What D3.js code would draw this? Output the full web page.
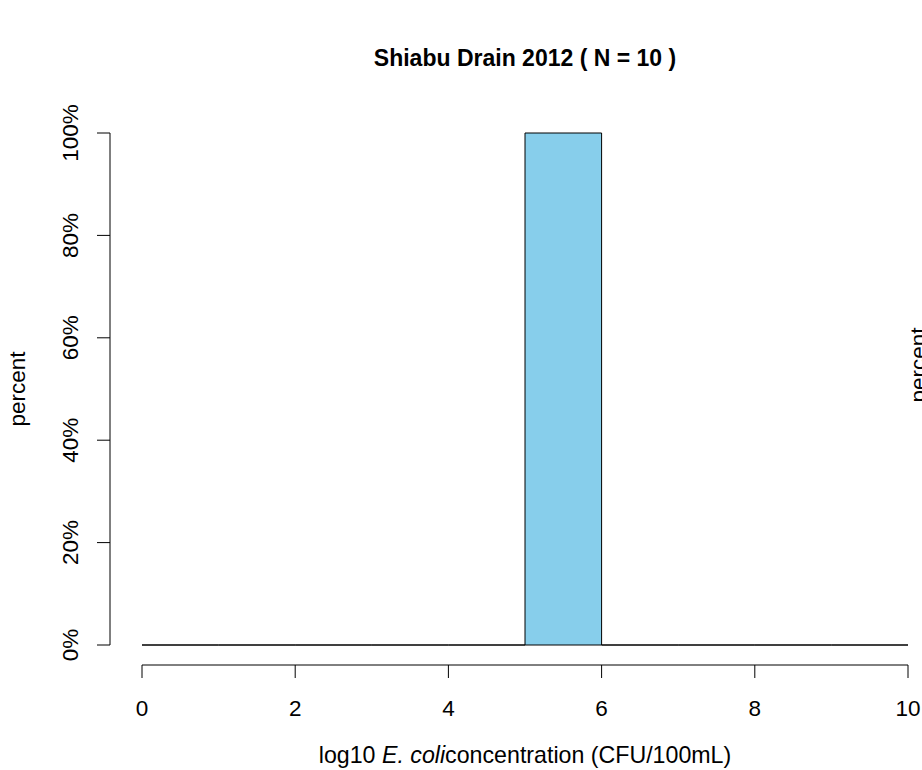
<!DOCTYPE html>
<html>
<head>
<meta charset="utf-8">
<script src="https://cdn.jsdelivr.net/npm/d3@7"></script>
<style>
body { margin: 0; background: #fff; }
text { font-family: "Liberation Sans", Arial, Helvetica, sans-serif; fill: #000; }
</style>
</head>
<body>
<div id="plot"></div>
<script>
const binStarts = [0, 1, 2, 3, 4, 5, 6, 7, 8, 9];
const binWidth = 1;
const percents = [0, 0, 0, 0, 0, 100, 0, 0, 0, 0];
const xTicks = [0, 2, 4, 6, 8, 10];
const yTicks = [0, 20, 40, 60, 80, 100];
const title = "Shiabu Drain 2012 ( N = 10 )";

const W = 922, H = 770;
const fs = 22.5;

const svg = d3.select("#plot")
	.append("svg")
	.attr("width", W)
	.attr("height", H);

const x = d3.scaleLinear().domain([0, 10]).range([142, 908]);
const y = d3.scaleLinear().domain([0, 100]).range([645, 133]);

// bars (zero-height ones show as the baseline)
svg.append("g")
	.selectAll("path")
	.data(binStarts.map((b, i) => ({x0: b, x1: b + binWidth, v: percents[i]})))
	.enter()
	.append("path")
		.attr("d", d => `M${x(d.x0)},${y(0)}V${y(d.v)}H${x(d.x1)}V${y(0)}Z`)
		.attr("fill", "#87CEEB")
		.attr("stroke", "#000")
		.attr("stroke-width", 1);

// y axis
const yAx = svg.append("g");
yAx.append("line")
	.attr("x1", 110).attr("x2", 110)
	.attr("y1", y(0)).attr("y2", y(100))
	.attr("stroke", "#000");
yAx.selectAll(".tk")
	.data(yTicks)
	.enter()
	.append("line")
		.attr("x1", 97).attr("x2", 110)
		.attr("y1", d => y(d)).attr("y2", d => y(d))
		.attr("stroke", "#000");
yAx.selectAll("text")
	.data(yTicks)
	.enter()
	.append("text")
		.attr("transform", d => `translate(78,${y(d)}) rotate(-90)`)
		.attr("text-anchor", "middle")
		.attr("font-size", fs)
		.text(d => d + "%");

// x axis
const xAx = svg.append("g");
xAx.append("line")
	.attr("x1", x(0)).attr("x2", x(10))
	.attr("y1", 665).attr("y2", 665)
	.attr("stroke", "#000");
xAx.selectAll(".tk")
	.data(xTicks)
	.enter()
	.append("line")
		.attr("x1", d => x(d)).attr("x2", d => x(d))
		.attr("y1", 665).attr("y2", 678)
		.attr("stroke", "#000");
xAx.selectAll("text")
	.data(xTicks)
	.enter()
	.append("text")
		.attr("x", d => x(d))
		.attr("y", 716)
		.attr("text-anchor", "middle")
		.attr("font-size", fs)
		.text(d => d);

// titles
svg.append("text")
	.attr("x", 525).attr("y", 66)
	.attr("text-anchor", "middle")
	.attr("font-size", 23)
	.attr("font-weight", "bold")
	.text(title);

const xl = svg.append("text")
	.attr("x", 525).attr("y", 763)
	.attr("text-anchor", "middle")
	.attr("font-size", 23.2);
xl.append("tspan").text("log10 ");
xl.append("tspan").attr("font-style", "italic").text("E. coli");
xl.append("tspan").text("concentration (CFU/100mL)");

svg.append("text")
	.attr("transform", "translate(25,389) rotate(-90)")
	.attr("text-anchor", "middle")
	.attr("font-size", fs)
	.text("percent");

// label of the next panel, cut off at the right edge
svg.append("text")
	.attr("transform", "translate(926,365) rotate(-90)")
	.attr("text-anchor", "middle")
	.attr("font-size", fs)
	.text("percent");
</script>
</body>
</html>
